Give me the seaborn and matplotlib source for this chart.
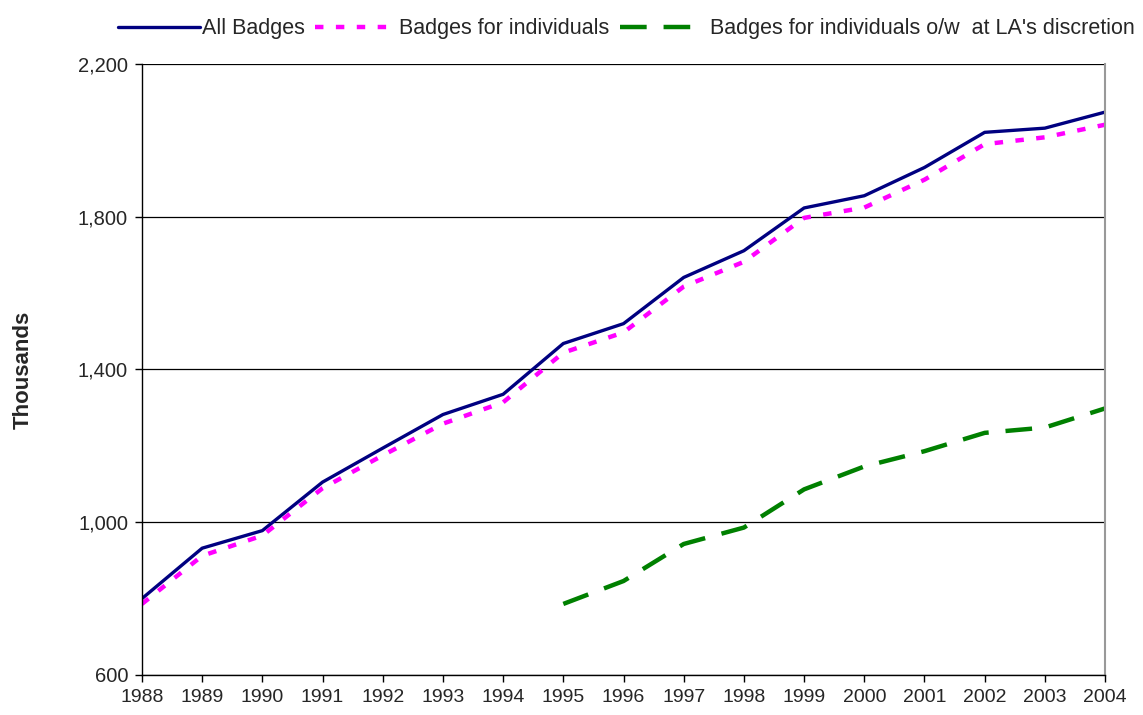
import matplotlib
matplotlib.use("Agg")
import matplotlib.pyplot as plt
import seaborn as sns
import pandas as pd

years = list(range(1988, 2005))
all_badges = [800, 932, 978, 1105, 1194, 1282, 1335, 1468, 1520, 1641, 1711, 1823, 1855, 1929, 2021, 2032, 2074]
individuals = [786, 912, 965, 1089, 1175, 1258, 1314, 1444, 1497, 1617, 1682, 1797, 1824, 1897, 1990, 2008, 2041]
disc_years = list(range(1995, 2005))
discretion = [786, 846, 943, 986, 1086, 1146, 1186, 1234, 1248, 1298]

labels = ["All Badges", "Badges for individuals", " Badges for individuals o/w  at LA's discretion"]
yticks = [600, 1000, 1400, 1800, 2200]

sns.set_theme(style="white")
plt.rcParams['font.family'] = ['Liberation Sans', 'DejaVu Sans']

fig = plt.figure(figsize=(11.43, 7.15), dpi=100)
ax = fig.add_axes([0.1242, 0.056, 0.8426, 0.8545])

df1 = pd.DataFrame({"year": years, "v": all_badges})
df2 = pd.DataFrame({"year": years, "v": individuals})
df3 = pd.DataFrame({"year": disc_years, "v": discretion})

ax.yaxis.grid(True, color="black", linewidth=0.9)
ax.set_axisbelow(True)

sns.lineplot(data=df1, x="year", y="v", ax=ax, color="#000080", linewidth=2.4, label=labels[0])
sns.lineplot(data=df2, x="year", y="v", ax=ax, color="#FF00FF", linewidth=3.2, label=labels[1])
ax.lines[-1].set_dashes((1.9, 2.8))
sns.lineplot(data=df3, x="year", y="v", ax=ax, color="#008000", linewidth=3.2, label=labels[2])
ax.lines[-1].set_dashes((6.0, 3.8))

ax.set_xlim(1988, 2004)
ax.set_ylim(600, 2200)
ax.set_xticks(years)
ax.set_xticklabels([str(y) for y in years], fontsize=14)
ax.set_yticks(yticks)
ax.set_yticklabels([f"{v:,}" for v in yticks], fontsize=14.5)
ax.set_xlabel("")
ax.set_ylabel("Thousands", fontsize=16, fontweight="bold", labelpad=32)

ax.spines["top"].set_visible(False)
ax.spines["right"].set_color("#999999")
ax.spines["right"].set_linewidth(1.5)
ax.spines["left"].set_color("black")
ax.spines["bottom"].set_color("black")
ax.spines["left"].set_linewidth(1.0)
ax.spines["bottom"].set_linewidth(1.0)
ax.tick_params(axis="x", direction="out", length=5, width=1, color="black", bottom=True, pad=5)
ax.tick_params(axis="y", direction="out", length=5, width=1, color="black", left=True, pad=5)

handles, labs = ax.get_legend_handles_labels()
leg = ax.legend(handles, labs, loc="center", bbox_to_anchor=(0.503, 1.058), ncol=3, frameon=False,
                fontsize=15.5, handlelength=3.8, columnspacing=0.5, handletextpad=0.1)

fig.savefig("out.png", dpi=100)
